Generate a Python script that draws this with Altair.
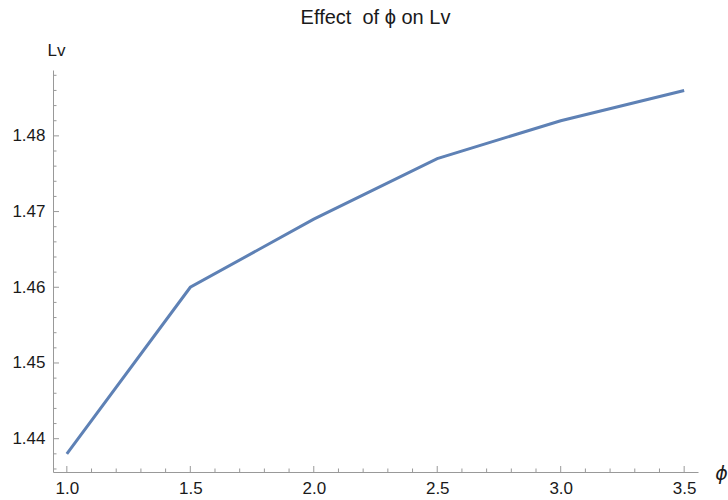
import altair as alt
import pandas as pd
import numpy as np

phi = [1.0, 1.5, 2.0, 2.5, 3.0, 3.5]
lv = [1.438, 1.460, 1.469, 1.477, 1.482, 1.486]

x_major = [1.0, 1.5, 2.0, 2.5, 3.0, 3.5]
y_major = [1.44, 1.45, 1.46, 1.47, 1.48]
x_minor = [round(v, 2) for v in np.arange(1.0, 3.51, 0.1) if all(abs(v - m) > 1e-6 for m in x_major)]
y_minor = [round(v, 3) for v in np.arange(1.436, 1.4885, 0.002) if all(abs(v - m) > 1e-6 for m in y_major)]

X_DOM = [0.944, 3.556]
Y_DOM = [1.4356, 1.4887]

FONT = "Liberation Sans"
AXC = "#999999"
TXT = "#1a1a1a"

df = pd.DataFrame({"phi": phi, "lv": lv})

xs = alt.Scale(domain=X_DOM, nice=False, zero=False)
ys = alt.Scale(domain=Y_DOM, nice=False, zero=False)

line = alt.Chart(df).mark_line(color="#5E81B5", strokeWidth=3, clip=True).encode(
    x=alt.X("phi:Q", scale=xs, axis=alt.Axis(
        values=x_major, format=".1f", ticks=False, tickSize=0, grid=False,
        domainColor=AXC, labelFont=FONT, labelFontSize=17, labelColor=TXT,
        labelPadding=8, title="ϕ", titleFont="DejaVu Sans", titleFontStyle="italic",
        titleFontWeight="normal", titleFontSize=19, titleColor=TXT,
        titleAngle=0, titleX=668, titleY=1, titleAlign="center", titleBaseline="middle")),
    y=alt.Y("lv:Q", scale=ys, axis=alt.Axis(
        values=y_major, format=".2f", ticks=False, tickSize=0, grid=False,
        domainColor=AXC, labelFont=FONT, labelFontSize=17, labelColor=TXT,
        labelPadding=8, title="Lv", titleFont=FONT, titleFontWeight="normal",
        titleFontSize=17, titleColor=TXT, titleAngle=0, titleX=3, titleY=-20,
        titleAlign="center", titleBaseline="middle")),
)

ymaj = alt.Chart(pd.DataFrame({"v": y_major})).mark_rule(color=AXC, strokeWidth=1).encode(
    y=alt.Y("v:Q", scale=ys), x=alt.value(0), x2=alt.value(6))
ymin = alt.Chart(pd.DataFrame({"v": y_minor})).mark_rule(color=AXC, strokeWidth=1).encode(
    y=alt.Y("v:Q", scale=ys), x=alt.value(0), x2=alt.value(3.5))
xmaj = alt.Chart(pd.DataFrame({"v": x_major})).mark_rule(color=AXC, strokeWidth=1).encode(
    x=alt.X("v:Q", scale=xs), y=alt.value(402), y2=alt.value(396))
xmin = alt.Chart(pd.DataFrame({"v": x_minor})).mark_rule(color=AXC, strokeWidth=1).encode(
    x=alt.X("v:Q", scale=xs), y=alt.value(402), y2=alt.value(398.5))

chart = alt.layer(ymaj, ymin, xmaj, xmin, line).properties(
    width=645, height=402,
    title=alt.TitleParams("Effect\u00a0\u00a0of ϕ on Lv", font=FONT, fontSize=20, fontWeight="normal",
                          color=TXT, anchor="middle", offset=13),
    autosize=alt.AutoSizeParams(type="none"),
    padding={"left": 53, "top": 70, "right": 30, "bottom": 28},
).configure_view(stroke=None)

chart.save("out.html", embed_options={"renderer": "svg", "actions": False})
